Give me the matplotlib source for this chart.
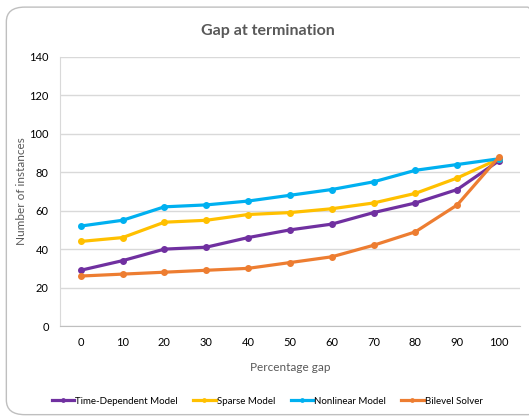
import matplotlib.pyplot as plt
from matplotlib.patches import FancyBboxPatch

plt.rcParams['font.family'] = ['Lato', 'DejaVu Sans']

gaps = ["0", "10", "20", "30", "40", "50", "60", "70", "80", "90", "100"]
time_dep = [29, 34, 40, 41, 46, 50, 53, 59, 64, 71, 86]
sparse = [44, 46, 54, 55, 58, 59, 61, 64, 69, 77, 87]
nonlinear = [52, 55, 62, 63, 65, 68, 71, 75, 81, 84, 87]
bilevel = [26, 27, 28, 29, 30, 33, 36, 42, 49, 63, 88]

series = [
    ("Time-Dependent Model", time_dep, "#7030A0"),
    ("Sparse Model", sparse, "#FFC000"),
    ("Nonlinear Model", nonlinear, "#00B0F0"),
    ("Bilevel Solver", bilevel, "#ED7D31"),
]

fig = plt.figure(figsize=(5.29, 4.18), dpi=100)
ax = fig.add_axes([0.113, 0.220, 0.870, 0.644])

# rounded chart border
border = FancyBboxPatch((0.012, 0.008), 1.02, 0.975, boxstyle="round,pad=0,rounding_size=0.035",
                        transform=fig.transFigure, fill=False, edgecolor="#BFBFBF", linewidth=1.0)
fig.patches.append(border)

x = list(range(len(gaps)))
for name, vals, col in series:
    ax.plot(x, vals, color=col, linewidth=2.3, marker="o", markersize=4, label=name)

ax.set_xlim(-0.5, len(gaps) - 0.5)
ax.set_ylim(0, 140)
ax.set_yticks(range(0, 141, 20))
ax.set_xticks(x)
ax.set_xticklabels(gaps)
ax.grid(axis="y", color="#D9D9D9", linewidth=1)
ax.set_axisbelow(True)
for s in ["top", "right"]:
    ax.spines[s].set_visible(False)
ax.spines["left"].set_color("#D9D9D9")
ax.spines["bottom"].set_color("#BFBFBF")
ax.tick_params(length=0, labelsize=8, colors="#000000", pad=8)

fig.text(0.507, 0.927, "Gap at termination", fontsize=11.5, fontweight="bold", color="#595959",
         ha="center", va="center")
ax.set_xlabel("Percentage gap", fontsize=8.5, color="#595959", labelpad=10)
ax.set_ylabel("Number of instances", fontsize=8.5, color="#595959")
ax.yaxis.set_label_coords(-0.072, 0.5)

fig.legend(loc="center", bbox_to_anchor=(0.505, 0.04), ncol=4, frameon=False, fontsize=7,
           handlelength=2.3, handletextpad=0.1, columnspacing=1.6, markerscale=0.6)

fig.savefig("out.png", dpi=100)
